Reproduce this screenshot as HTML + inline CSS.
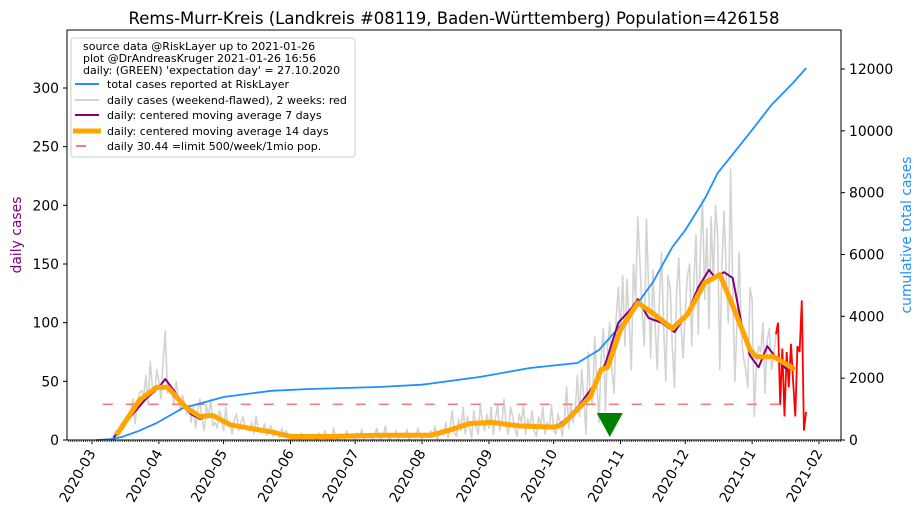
<!DOCTYPE html>
<html><head><meta charset="utf-8">
<style>
html,body{margin:0;padding:0;background:#fff;}
svg{display:block;font-family:"DejaVu Sans","Liberation Sans",sans-serif;}
</style></head>
<body>
<svg id="chart" width="923" height="516" viewBox="0 0 923 516" xmlns="http://www.w3.org/2000/svg">
<rect x="0" y="0" width="923" height="516" fill="#fff"/>
<text x="454" y="24" text-anchor="middle" font-size="16.5" fill="#000">Rems-Murr-Kreis (Landkreis #08119, Baden-Württemberg) Population=426158</text>
<g id="marks"></g>
<g id="axes"></g>
<rect x="67" y="30" width="774" height="410" fill="none" stroke="#000" stroke-width="1"/>
<text transform="translate(21,235) rotate(-90)" text-anchor="middle" font-size="13.9" fill="purple">daily cases</text>
<text transform="translate(911,235) rotate(-90)" text-anchor="middle" font-size="13.9" fill="dodgerblue">cumulative total cases</text>
<g>
<rect x="71" y="38" width="284" height="119" rx="3" fill="#fff" fill-opacity="0.85" stroke="#ccc"/>
<g font-size="11" fill="#000">
<text x="83" y="50">source data @RiskLayer up to 2021-01-26</text>
<text x="83" y="62">plot @DrAndreasKruger 2021-01-26 16:56</text>
<text x="83" y="74">daily: (GREEN) 'expectation day' = 27.10.2020</text>
<line x1="75" y1="84" x2="99" y2="84" stroke="dodgerblue" stroke-width="2"/>
<text x="107" y="88">total cases reported at RiskLayer</text>
<line x1="75" y1="100" x2="99" y2="100" stroke="lightgray" stroke-width="2"/>
<text x="107" y="104">daily cases (weekend-flawed), 2 weeks: red</text>
<line x1="75" y1="115" x2="99" y2="115" stroke="purple" stroke-width="2"/>
<text x="107" y="119">daily: centered moving average 7 days</text>
<line x1="73" y1="131" x2="101" y2="131" stroke="orange" stroke-width="5"/>
<text x="107" y="135">daily: centered moving average 14 days</text>
<line x1="76" y1="146" x2="86" y2="146" stroke="#f08080" stroke-width="2"/>
<text x="107" y="150">daily 30.44 =limit 500/week/1mio pop.</text>
</g>
</g>
</svg>
<script>
// day index: 0 = 2020-03-01
const monthLabels = ["2020-03","2020-04","2020-05","2020-06","2020-07","2020-08","2020-09","2020-10","2020-11","2020-12","2021-01","2021-02"];
const monthDays = [0,31,61,92,122,153,184,214,245,275,306,337];
const leftTicks = [0,50,100,150,200,250,300];
const rightTicks = [0,2000,4000,6000,8000,10000,12000];
const rawStart = 9;
const rawDaily = [2,4,8,3,12,15,10, 20,18,25,35,14,30,40, 42,38,55,30,67,45,40, 60,50,35,68,93,40,45,
42,30,50,35,25,38,28, 22,30,15,28,10,25,35, 18,8,30,20,35,12,15, 10,25,20,8,28,12,15,
5,18,22,8,15,20,10, 12,8,15,5,20,10,6, 8,14,4,10,12,3,8, 6,2,10,4,8,3,5,
2,5,3,0,6,2,4, 3,1,5,2,0,6,3, 2,8,0,3,1,10,2, 0,5,3,1,8,2,4,
3,0,6,2,9,1,3, 2,5,0,4,10,2,1, 3,12,2,0,5,3,8, 1,4,6,2,9,0,3,
5,2,10,3,1,6,4, 2,8,3,12,0,6,9, 4,15,2,10,25,6,3, 18,8,28,5,20,10,2,
25,12,5,30,15,8,22, 10,28,5,18,30,8,15, 35,12,5,28,20,10,3, 22,15,30,5,18,10,25,
8,3,20,12,28,5,15, 10,30,8,5,22,15,3, 18,45,10,30,15,25,55, 20,60,35,5,75,40,30,
88,50,15,70,95,25,80, 100,60,40,105,130,90,140, 80,137,100,60,150,120,190, 150,110,80,188,130,70,145,
100,60,120,160,95,50,140, 130,80,45,125,155,100,70, 110,140,150,80,135,175,90, 160,205,120,180,95,190,135,
200,175,60,150,195,140,100, 231,130,50,100,160,90,70, 60,45,130,120,20,65,80, 75,100,40,85,95,60,70,90];
const redStart = 318;
const redDaily = [100,30,78,20,75,45,82,50,20,80,75,119,8,24];
const cumDays = [2,9,14,22,30,42,61,83,101,133,153,180,203,225,235,246,254,260,269,275,284,290,306,315,325,331];
const cumVals = [0,30,100,300,550,1030,1390,1590,1650,1715,1790,2040,2330,2490,2910,3780,4530,5100,6240,6790,7800,8630,10030,10840,11550,12030];
const ma7Days = [10,18,25,31,34,38,42,46,50,56,62,68,75,83,92,110,133,157,165,175,185,195,205,214,220,226,232,238,244,250,253,258,264,270,276,281,286,289,293,297,301,305,309,313,318,322];
const ma7Vals = [2,20,35,45,52,42,30,22,18,22,15,12,10,6,2,3,4,3,8,15,16,13,11,10,18,30,45,65,100,112,120,104,100,92,108,130,145,138,143,138,100,72,62,80,68,60];
const ma14Days = [12,22,30,35,39,44,50,56,64,73,83,92,110,133,157,165,175,185,198,214,218,225,231,236,239,245,253,260,269,276,284,291,296,301,305,308,316,325];
const ma14Vals = [6,34,45,45,37,27,20,21,13,10,7,3,3,4,4,8,14,15,12,11,13,26,37,60,62,94,117,108,95,107,134,141,119,96,77,71,71,61];
const limitValue = 30.44;
const limitStart = 5, limitEnd = 323;
const expectationDay = 240;

const NS = "http://www.w3.org/2000/svg";
const X0 = 92, PXD = 2.1573;
function xs(d){ return X0 + d*PXD; }
function yl(v){ return 440 - v*(352/300); }
function yr(v){ return 440 - v*(371/12000); }
function mk(tag, attrs, parent){
  const e = document.createElementNS(NS, tag);
  for (const k in attrs) e.setAttribute(k, attrs[k]);
  parent.appendChild(e); return e;
}
const marks = document.getElementById('marks');
const axes = document.getElementById('axes');

function pts(days, vals, yf){ return days.map((d,i)=>xs(d).toFixed(1)+','+yf(vals[i]).toFixed(1)).join(' '); }

// raw daily (gray)
const rawD = rawDaily.map((v,i)=>rawStart+i);
let el = mk('polyline',{points:pts(rawD,rawDaily,yl),fill:'none',stroke:'lightgray','stroke-width':1.6,'stroke-linejoin':'round'},marks);


// red last two weeks
const redD = redDaily.map((v,i)=>redStart+i);
el = mk('polyline',{points:pts([redStart-1].concat(redD),[rawDaily[rawDaily.length-1]].concat(redDaily),yl),fill:'none',stroke:'red','stroke-width':1.8},marks);


// limit line
el = mk('line',{x1:xs(limitStart),x2:xs(limitEnd),y1:yl(limitValue),y2:yl(limitValue),stroke:'#f08080','stroke-width':1.6,'stroke-dasharray':'10,13'},marks);


// cumulative
el = mk('polyline',{points:pts(cumDays,cumVals,yr),fill:'none',stroke:'dodgerblue','stroke-width':1.8},marks);


// ma7
el = mk('polyline',{points:pts(ma7Days,ma7Vals,yl),fill:'none',stroke:'purple','stroke-width':2,'stroke-linejoin':'round'},marks);


// ma14
el = mk('polyline',{points:pts(ma14Days,ma14Vals,yl),fill:'none',stroke:'orange','stroke-width':5,'stroke-linejoin':'round','stroke-linecap':'round'},marks);


// expectation day triangle
const tx = xs(expectationDay);
el = mk('polygon',{points:`${tx-13},413 ${tx+13},413 ${tx},437`,fill:'green'},marks);



// x minor ticks
for (let d=-11; d<=347; d++){
  const t = mk('line',{x1:xs(d),x2:xs(d),y1:440,y2:442,stroke:'#000','stroke-width':0.7},axes);
  
  
}
monthDays.forEach((d,i)=>{
  const x = xs(d);
  const t = mk('line',{x1:x,x2:x,y1:440,y2:444,stroke:'#000','stroke-width':1},axes);
  
  
  const lb = mk('text',{x:x+4,y:453,'text-anchor':'end','font-size':13.9,transform:`rotate(-60 ${x+4} 453)`},axes);
  lb.textContent = monthLabels[i];
  
  
});
leftTicks.forEach(v=>{
  const y = yl(v);
  const t = mk('line',{x1:63,x2:67,y1:y,y2:y,stroke:'#000'},axes);
  
  
  const lb = mk('text',{x:59,y:y+5,'text-anchor':'end','font-size':13.9},axes);
  lb.textContent = v;
  
  
});
rightTicks.forEach(v=>{
  const y = yr(v);
  const t = mk('line',{x1:841,x2:845,y1:y,y2:y,stroke:'#000'},axes);
  
  
  const lb = mk('text',{x:849,y:y+5,'text-anchor':'start','font-size':13.9},axes);
  lb.textContent = v;
  
  
});
</script>
</body></html>
